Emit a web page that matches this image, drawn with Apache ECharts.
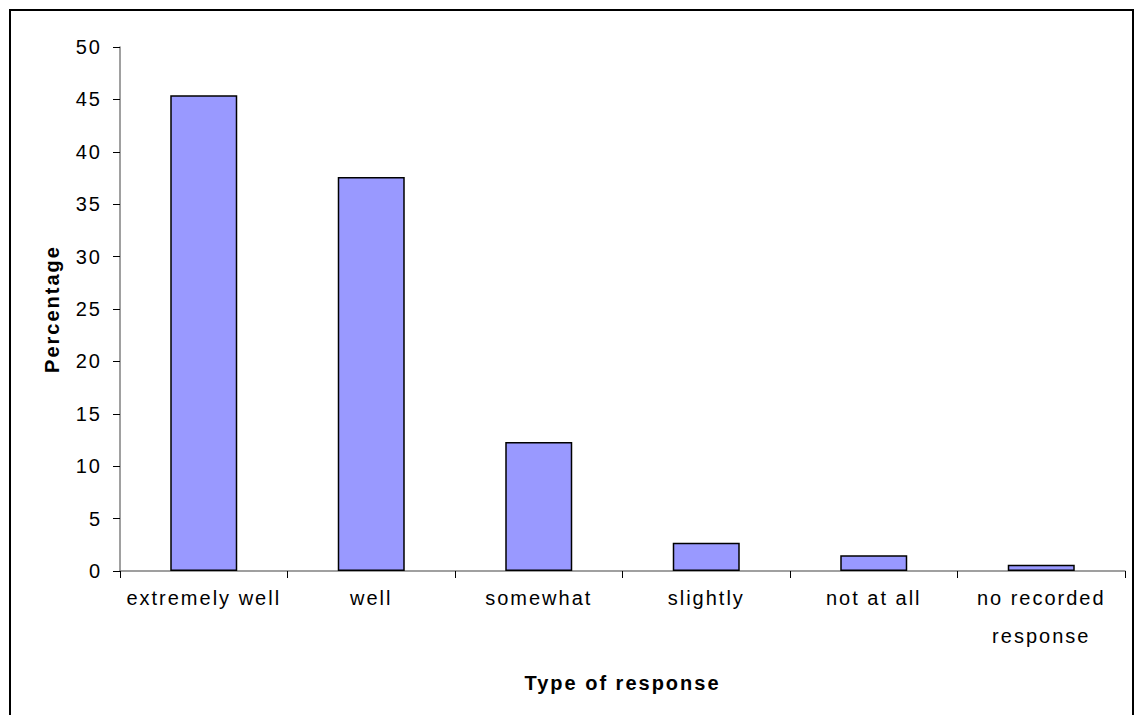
<!DOCTYPE html>
<html>
<head>
<meta charset="utf-8">
<script src="https://cdn.jsdelivr.net/npm/echarts@6/dist/echarts.min.js"></script>
<style>
  html, body { margin: 0; padding: 0; background: #fff; }
  #chart { width: 1135px; height: 715px; }
  /* slightly open tracking on every label */
  #chart svg text { letter-spacing: 2px; }
</style>
</head>
<body>
<div id="chart"></div>
<script>
// Response categories and the share of respondents for each (percent)
const categories = ['extremely well', 'well', 'somewhat', 'slightly', 'not at all', 'no recorded\nresponse'];
const percentages = [45.4, 37.6, 12.3, 2.7, 1.5, 0.6];
const yTicks = { min: 0, max: 50, interval: 5 };

const chart = echarts.init(document.getElementById('chart'), null, { renderer: 'svg' });

const font = '"Liberation Sans", Arial, sans-serif';

chart.setOption({
  animation: false,
  backgroundColor: '#ffffff',
  graphic: [{
    type: 'rect',
    shape: { x: 10, y: 10, width: 1123, height: 730 },
    style: { fill: 'none', stroke: '#000', lineWidth: 2 },
    silent: true
  }],
  grid: { left: 120, right: 10, top: 47, bottom: 144, containLabel: false },
  xAxis: {
    type: 'category',
    data: categories,
    boundaryGap: true,
    name: 'Type of response',
    nameLocation: 'middle',
    nameGap: 102,
    nameTextStyle: { fontFamily: font, fontSize: 20, fontWeight: 'bold', color: '#000' },
    axisLine: { lineStyle: { color: '#808080', width: 1.5 } },
    axisTick: { show: true, alignWithLabel: false, length: 7, lineStyle: { color: '#000', width: 1 } },
    axisLabel: { fontFamily: font, fontSize: 20, color: '#000', margin: 8, lineHeight: 38, interval: 0 },
    splitLine: { show: false }
  },
  yAxis: {
    type: 'value',
    min: yTicks.min,
    max: yTicks.max,
    interval: yTicks.interval,
    name: 'Percentage',
    nameLocation: 'middle',
    nameGap: 58,
    nameRotate: 90,
    nameTextStyle: { fontFamily: font, fontSize: 20, fontWeight: 'bold', color: '#000' },
    axisLine: { show: true, lineStyle: { color: '#808080', width: 1.5 } },
    axisTick: { show: true, length: 7, lineStyle: { color: '#000', width: 1 } },
    axisLabel: { fontFamily: font, fontSize: 20, color: '#000', margin: 18 },
    splitLine: { show: false }
  },
  series: [{
    type: 'bar',
    data: percentages,
    barWidth: '40%',
    itemStyle: { color: '#9999FF', borderColor: '#000', borderWidth: 1.5 }
  }]
});
</script>
</body>
</html>
